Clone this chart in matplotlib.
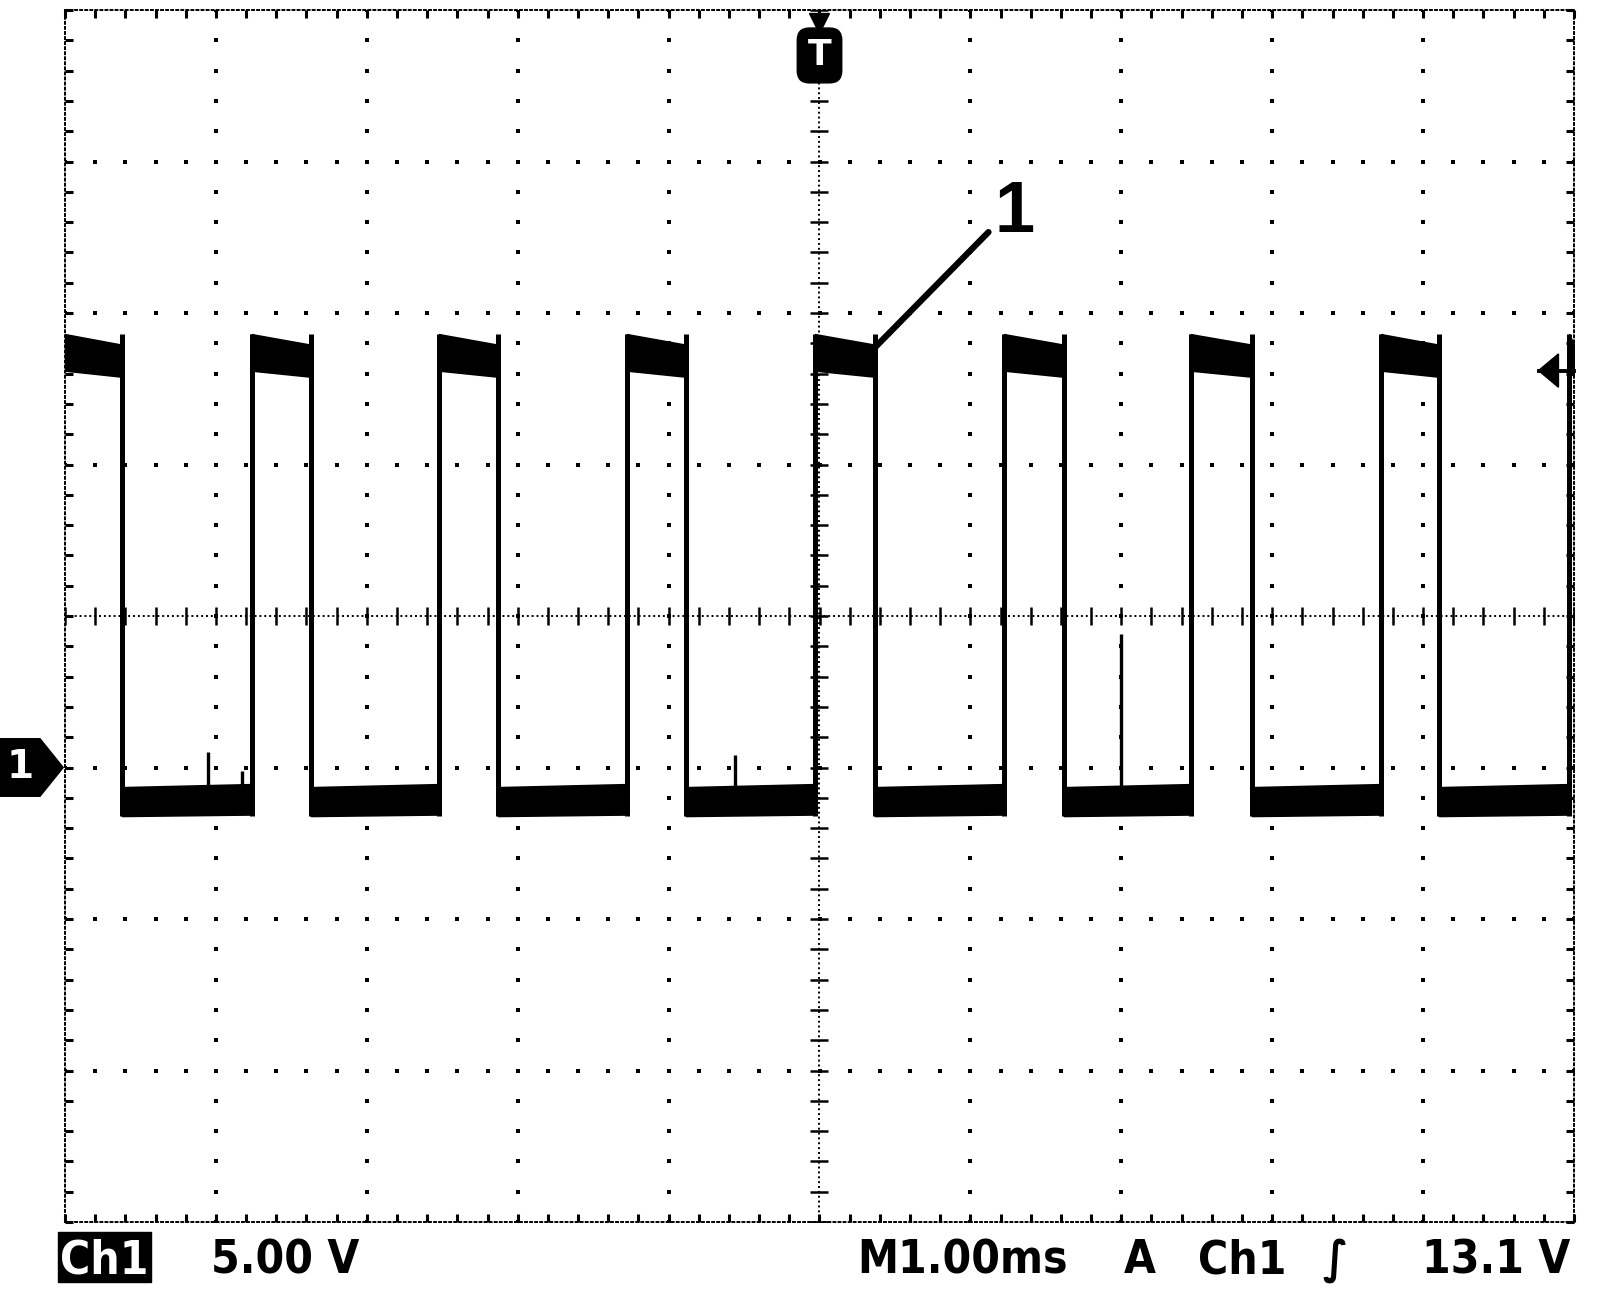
import matplotlib
matplotlib.use('Agg')
import matplotlib.pyplot as plt
import numpy as np
from matplotlib.patches import Polygon, Rectangle
from matplotlib.transforms import blended_transform_factory

# Scope capture: Ch1 5.00 V/div, M 1.00 ms/div, trigger Ch1 rising at 13.1 V
# edge times in ms relative to the trigger point
fall_times = [-4.622, -3.370, -2.131, -0.885, 0.368, 1.620, 2.866, 4.105]
rise_times = [-3.764, -2.522, -1.276, -0.030, 1.223, 2.459, 3.721, 4.967]

# noise envelope of the trace (V) at start / end of each level
high_top = [14.3, 13.95]
high_bot = [13.1, 12.9]
low_top = [-0.65, -0.55]
low_bot = [-1.6, -1.55]

# glitches on the low level: time (ms) and peak (V)
spike_times = [-4.05, -3.83, -0.56, 2.00]
spike_peaks = [0.5, -0.1, 0.4, 4.4]

trigger_level = 13.1
t_range = (-5, 5)        # 10 div x 1 ms
v_range = (-15, 25)      # 8 div x 5 V, ground one div below centre

fig = plt.figure(figsize=(16, 13), dpi=100)
ax = fig.add_axes([65 / 1600, 78 / 1300, 1509 / 1600, 1212 / 1300])
ax.set_xlim(*t_range)
ax.set_ylim(*v_range)

# ---- graticule ----
xg = np.arange(t_range[0], t_range[1] + 0.001, 0.2)
yg = np.arange(v_range[0], v_range[1] + 0.001, 1.0)
for gx in range(-4, 5):
    if gx == 0:
        continue
    ax.plot(np.full_like(yg, gx), yg, ls='none', marker='s', ms=2.6, mew=0, color='k', zorder=1)
for gy in range(-10, 25, 5):
    if gy == 5:
        continue
    ax.plot(xg, np.full_like(xg, gy), ls='none', marker='s', ms=2.6, mew=0, color='k', zorder=1)

# centre crosshair with small ticks
ax.axvline(0, ls=(0, (1, 1.5)), lw=1.4, color='k', zorder=1)
ax.axhline(5, ls=(0, (1, 1.5)), lw=1.4, color='k', zorder=1)
ax.plot(xg, np.full_like(xg, 5), ls='none', marker='|', ms=13, mew=1.8, color='k', zorder=1)
ax.plot(np.zeros_like(yg), yg, ls='none', marker='_', ms=13, mew=1.8, color='k', zorder=1)

# border: dotted frame with inward ticks
for sp in ax.spines.values():
    sp.set_linestyle((0, (1, 1.6)))
    sp.set_linewidth(1.4)
ax.set_xticks(np.arange(-5, 5.01, 1))
ax.set_xticks(xg, minor=True)
ax.set_yticks(np.arange(-15, 25.01, 5))
ax.set_yticks(yg, minor=True)
ax.tick_params(which='both', direction='in', top=True, right=True, length=6, width=2.2,
               labelbottom=False, labelleft=False)

# ---- trace ----
high_spans = [(t_range[0], fall_times[0])]
high_spans += [(rise_times[i], fall_times[i + 1]) for i in range(len(fall_times) - 1)]
high_spans += [(rise_times[-1], t_range[1])]
low_spans = [(fall_times[i], rise_times[i]) for i in range(len(fall_times))]

for a, b in high_spans:
    ax.fill_between([a, b], high_bot, high_top, color='k', lw=1.2, zorder=3)
for a, b in low_spans:
    ax.fill_between([a, b], low_bot, low_top, color='k', lw=1.2, zorder=3)

edges = fall_times + rise_times
ax.vlines(edges, low_bot[0], high_top[0], color='k', lw=3.6, zorder=3)
ax.vlines(spike_times, low_top[0], spike_peaks, color='k', lw=2.4, zorder=3)

# callout "1"
ax.plot([0.371, 1.12], [13.88, 17.67], color='k', lw=4.5, solid_capstyle='round', zorder=4)
ax.text(1.29, 18.3, '1', fontsize=52, family='Liberation Sans', fontweight='bold',
        ha='center', va='center')

# trigger position marker at top
tr_x = blended_transform_factory(ax.transData, ax.transAxes)
ax.plot([0], [0.989], marker='v', ms=14, color='k', transform=tr_x, clip_on=False, zorder=5)
ax.text(0, 0.9625, 'T', transform=tr_x, color='white', fontsize=25, fontweight='bold',
        ha='center', va='center', zorder=5,
        bbox=dict(boxstyle='round,pad=0.3,rounding_size=0.35', fc='k', ec='k'))

# trigger level arrow at right edge
ax.add_patch(Polygon([(4.765, trigger_level), (4.897, trigger_level + 0.55),
                      (4.897, trigger_level - 0.55)], closed=True, color='k', clip_on=False, zorder=5))
ax.plot([4.765, 5.0], [trigger_level, trigger_level], color='k', lw=2.8, clip_on=False, zorder=5)

# ground marker for ch1 (left of screen)
tr_g = blended_transform_factory(fig.transFigure, ax.transData)
ax.add_patch(Polygon([(0, -0.95), (0.025, -0.95), (0.0395, 0), (0.025, 0.95), (0, 0.95)],
                     closed=True, color='k', transform=tr_g, clip_on=False))
ax.text(0.0125, 0, '1', transform=tr_g, color='white', fontsize=28, fontweight='bold',
        ha='center', va='center')

# ---- readout line ----
fig.patches.append(Rectangle((58 / 1600, 18 / 1300), 93 / 1600, 50 / 1300,
                             transform=fig.transFigure, color='k'))
rd = dict(fontsize=33, fontweight='bold', family='DejaVu Sans', fontstretch='condensed',
          va='baseline')
base_y = 27 / 1300
fig.text(104 / 1600, base_y, 'Ch1', color='white', ha='center', **rd)
fig.text(211 / 1600, base_y, '5.00 V', ha='left', **rd)
fig.text(857 / 1600, base_y, 'M1.00ms', ha='left', **rd)
fig.text(1124 / 1600, base_y, 'A', ha='left', **rd)
fig.text(1198 / 1600, base_y, 'Ch1', ha='left', **rd)
fig.text(1322 / 1600, base_y, '∫', ha='left', **rd)
fig.text(1570 / 1600, base_y, '13.1 V', ha='right', **rd)

fig.savefig('out.png', dpi=100, facecolor='white')
